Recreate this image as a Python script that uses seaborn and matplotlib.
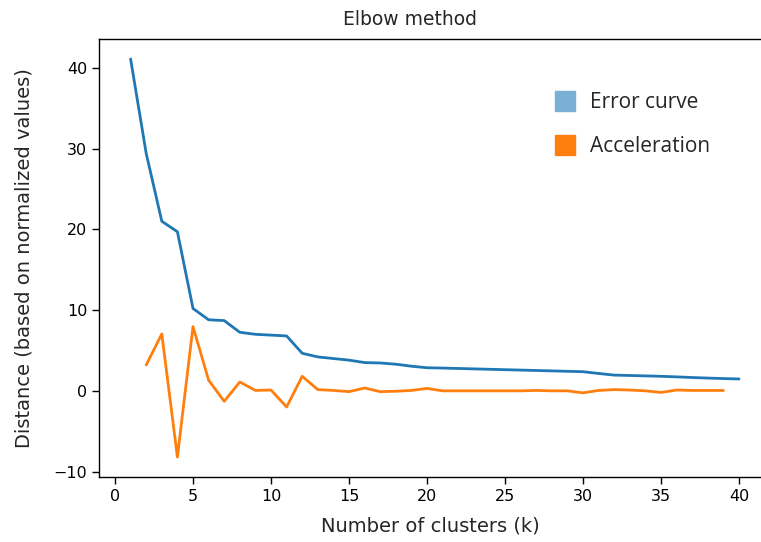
import matplotlib
matplotlib.use("Agg")
import matplotlib.pyplot as plt
from matplotlib.lines import Line2D
import seaborn as sns
import pandas as pd

k_error = list(range(1, 41))
error_curve = [41.1, 29.4, 21.0, 19.7, 10.2, 8.8, 8.7, 7.25, 7.0, 6.9,
               6.8, 4.65, 4.2, 4.0, 3.8, 3.5, 3.45, 3.3, 3.05, 2.86,
               2.82, 2.77, 2.72, 2.67, 2.62, 2.57, 2.52, 2.47, 2.42, 2.37,
               2.15, 1.95, 1.9, 1.85, 1.8, 1.73, 1.65, 1.58, 1.52, 1.47]

k_accel = list(range(2, 40))
acceleration = [3.2, 7.05, -8.2, 7.96, 1.33, -1.3, 1.1, 0.05, 0.1, -2.0,
                1.8, 0.15, 0.05, -0.1, 0.35, -0.1, -0.05, 0.05, 0.3, 0.0,
                0.0, 0.0, 0.0, 0.0, 0.0, 0.05, 0.0, 0.0, -0.25, 0.05,
                0.15, 0.1, 0.0, -0.2, 0.1, 0.05, 0.05, 0.05]

x_ticks = [0, 5, 10, 15, 20, 25, 30, 35, 40]
y_ticks = [-10, 0, 10, 20, 30, 40]
title = "Elbow method"
x_label = "Number of clusters (k)"
y_label = "Distance (based on normalized values)"
legend_labels = ["Error curve", "Acceleration"]

sns.set_style("ticks")
plt.rcParams['font.family'] = ['DejaVu Sans']
plt.rcParams['savefig.bbox'] = None

df_err = pd.DataFrame({"k": k_error, "v": error_curve})
df_acc = pd.DataFrame({"k": k_accel, "v": acceleration})

W, H = 761, 542
left_px, right_px, top_px, bot_px = 99, 761, 39, 477
fig = plt.figure(figsize=(W / 100, H / 100), dpi=100)
ax = fig.add_axes([left_px / W, (H - bot_px) / H, (right_px - left_px) / W, (bot_px - top_px) / H])

sns.lineplot(data=df_err, x="k", y="v", ax=ax, color="#1f77b4", linewidth=2.0)
sns.lineplot(data=df_acc, x="k", y="v", ax=ax, color="#ff7f0e", linewidth=2.0)

# x: 0 -> 115 px, 40 -> 739 px
ppu = (739 - 115) / 40.0
ax.set_xlim((left_px - 115) / ppu, (right_px - 115) / ppu)
ax.set_ylim(-10.67, 43.57)

ax.set_xticks(x_ticks)
ax.set_yticks(y_ticks)
ax.tick_params(axis="both", labelsize=11.5, length=5, width=1, colors="black")
ax.set_xlabel(x_label, fontsize=14, labelpad=9)
ax.set_ylabel(y_label, fontsize=14, labelpad=14)
ax.set_title(title, fontsize=13.5, pad=10, x=(410 - left_px) / (right_px - left_px))
for s in ax.spines.values():
    s.set_visible(True)
    s.set_color("black")
    s.set_linewidth(1)
ax.spines["right"].set_visible(False)

handles = [Line2D([], [], marker="s", linestyle="", color="#7bafd4", markersize=14),
           Line2D([], [], marker="s", linestyle="", color="#ff7f0e", markersize=14)]
leg = ax.legend(handles, legend_labels, frameon=False, loc="upper left",
                bbox_to_anchor=((540 - left_px) / (right_px - left_px), 1 - (84 - top_px) / (bot_px - top_px)),
                prop={"family": "Open Sans", "size": 15}, borderaxespad=0,
                handletextpad=0.4, labelspacing=1.1, handlelength=1.6)

fig.savefig("out.png", dpi=100, bbox_inches=None)
